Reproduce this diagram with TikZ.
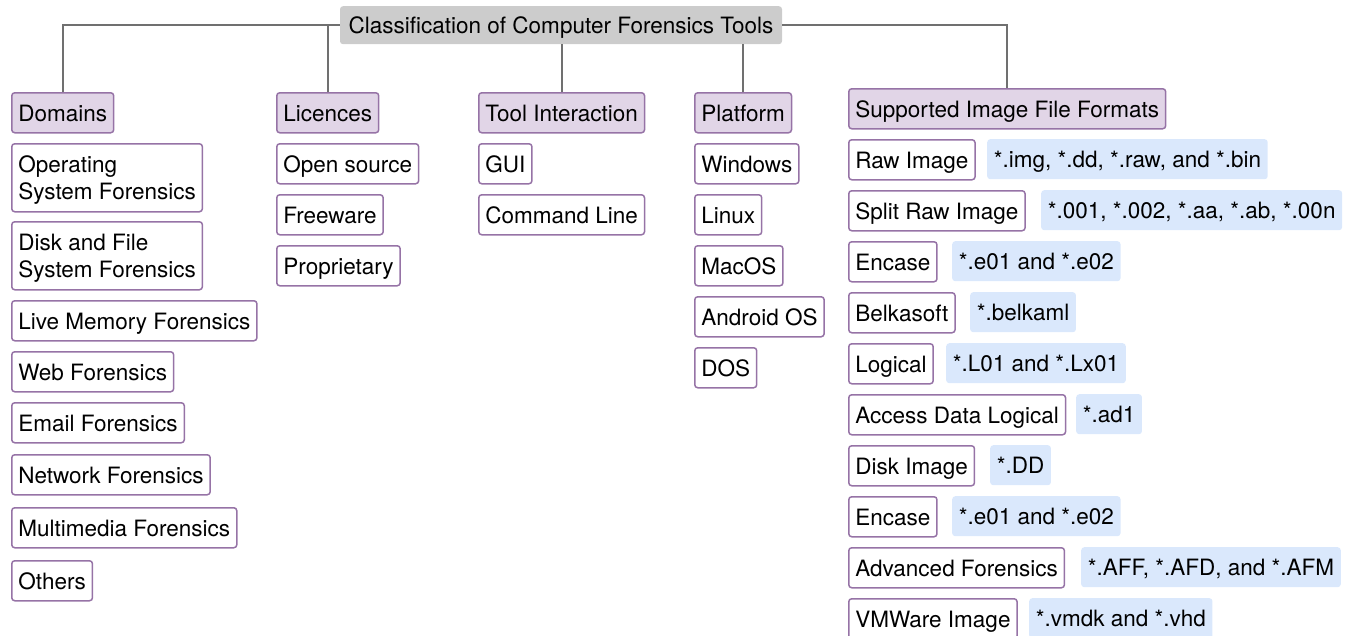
\documentclass[tikz,border=0pt]{standalone}
\usepackage{fontspec}
\setmainfont{TeX Gyre Heros}
\definecolor{rootgray}{HTML}{CCCCCC}
\definecolor{purp}{HTML}{9673A6}
\definecolor{lav}{HTML}{E1D5E7}
\definecolor{bluefill}{HTML}{DAE8FC}
\definecolor{linegray}{HTML}{707070}
\begin{document}
\begin{tikzpicture}[x=1pt,y=-1pt,
  base/.style={anchor=north west, rounded corners=3pt, inner xsep=6.6pt, inner ysep=0pt,
    minimum height=40pt, text height=16.5pt, text depth=0pt,
    font=\fontsize{22.5}{27}\selectfont},
  rootbox/.style={base, anchor=north, fill=rootgray, minimum width=442pt, minimum height=38pt, inner xsep=5pt},
  head/.style={base, draw=purp, fill=lav, line width=1.5pt},
  leaf/.style={base, draw=purp, fill=white, line width=1.5pt},
  twoline/.style={leaf, align=left, minimum height=68pt, text height=43.5pt, text depth=0pt},
  ext/.style={base, fill=bluefill},
  conn/.style={draw=linegray, line width=2pt}]
\useasboundingbox (0,0) rectangle (1347,635);

\node[rootbox] (root) at (561,6) {Classification of Computer Forensics Tools};

% headers
\node[head] (dom) at (11,92) {Domains};
\node[head] (lic) at (276,92) {Licences};
\node[head] (ti) at (478,92) {Tool Interaction};
\node[head] (pl) at (694,92) {Platform};
\node[head] (sup) at (848,88) {Supported Image File Formats};

% connectors
\draw[conn] (root.west) -| (dom.north);
\draw[conn] (root.west -| lic.north) -- (lic.north);
\draw[conn] (root.south -| ti.north) -- (ti.north);
\draw[conn] (root.south -| pl.north) -- (pl.north);
\draw[conn] (root.east) -| (sup.north);

% domains
\node[twoline] (d1) at (11,143) {Operating\\System Forensics};
\node[twoline] (d2) at (11,221) {Disk and File\\System Forensics};
\node[leaf] (d3) at (11,300) {Live Memory Forensics};
\node[leaf] (d4) at (11,351) {Web Forensics};
\node[leaf] (d5) at (11,402) {Email Forensics};
\node[leaf] (d6) at (11,454) {Network Forensics};
\node[leaf] (d7) at (11,507) {Multimedia Forensics};
\node[leaf] (d8) at (11,560) {Others};

% licences
\node[leaf] (l1) at (276,143) {Open source};
\node[leaf] (l2) at (276,194) {Freeware};
\node[leaf] (l3) at (276,245) {Proprietary};

% tool interaction
\node[leaf] (t1) at (478,143) {GUI};
\node[leaf] (t2) at (478,194) {Command Line};

% platform
\node[leaf] (p1) at (694,143) {Windows};
\node[leaf] (p2) at (694,194) {Linux};
\node[leaf] (p3) at (694,245) {MacOS};
\node[leaf] (p4) at (694,296) {Android OS};
\node[leaf] (p5) at (694,347) {DOS};

% image formats
\node[leaf] (s1) at (848,139) {Raw Image};
\node[ext]  (e1) at (987,139) {*.img, *.dd, *.raw, and *.bin};
\node[leaf] (s2) at (848,190) {Split Raw Image};
\node[ext]  (e2) at (1041,190) {*.001, *.002, *.aa, *.ab, *.00n};
\node[leaf] (s3) at (848,241) {Encase};
\node[ext]  (e3) at (952,241) {*.e01 and *.e02};
\node[leaf] (s4) at (848,292) {Belkasoft};
\node[ext]  (e4) at (970,292) {*.belkaml};
\node[leaf] (s5) at (848,343) {Logical};
\node[ext]  (e5) at (946,343) {*.L01 and *.Lx01};
\node[leaf] (s6) at (848,394) {Access Data Logical};
\node[ext]  (e6) at (1076,394) {*.ad1};
\node[leaf] (s7) at (848,445) {Disk Image};
\node[ext]  (e7) at (990,445) {*.DD};
\node[leaf] (s8) at (848,496) {Encase};
\node[ext]  (e8) at (952,496) {*.e01 and *.e02};
\node[leaf] (s9) at (848,547) {Advanced Forensics};
\node[ext]  (e9) at (1081,547) {*.AFF, *.AFD, and *.AFM};
\node[leaf] (s10) at (848,598) {VMWare Image};
\node[ext]  (e10) at (1029,598) {*.vmdk and *.vhd};
\end{tikzpicture}
\end{document}
